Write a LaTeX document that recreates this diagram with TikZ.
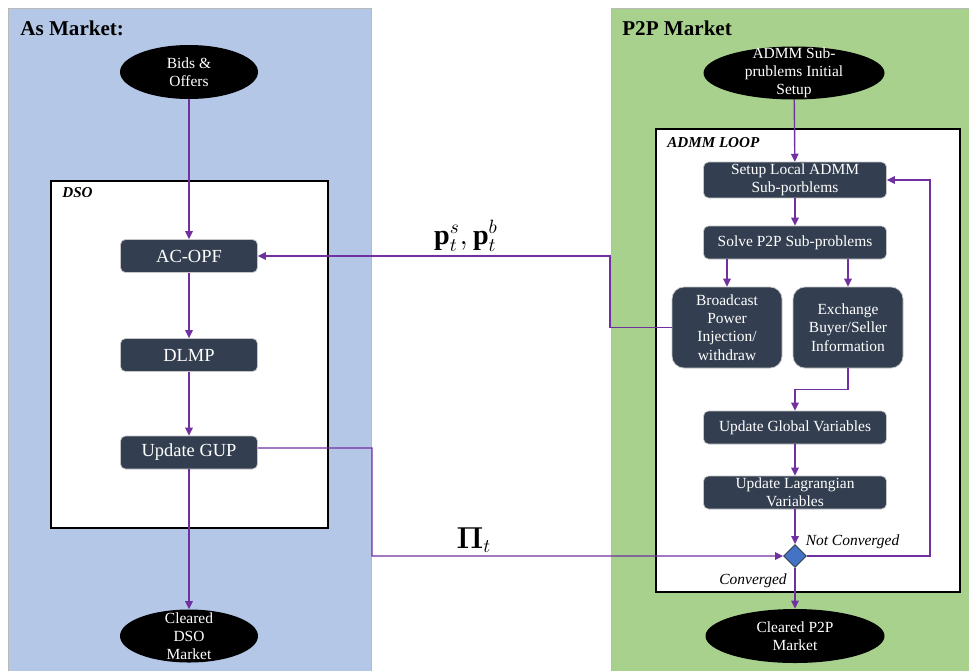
\documentclass[tikz,border=0pt]{standalone}
\usepackage{amsmath,amssymb,bm}
\usepackage{fontspec}
\setmainfont{Liberation Serif}
\usetikzlibrary{arrows.meta,positioning,shapes.geometric}

\definecolor{asblue}{HTML}{B4C7E7}
\definecolor{ptpgreen}{HTML}{A9D18E}
\definecolor{slatebox}{HTML}{333F50}
\definecolor{flowpurple}{HTML}{7030A0}
\definecolor{decisionblue}{HTML}{4472C4}

\begin{document}
\begin{tikzpicture}[
    every node/.style={font=\fontsize{8.8}{10.4}\selectfont},
    panel/.style={draw=gray!55, line width=0.4pt},
    panel title/.style={anchor=west, inner sep=0pt, font=\fontsize{12}{14}\selectfont\bfseries},
    frame/.style={draw=black, fill=white, line width=1pt},
    frame title/.style={anchor=west, inner sep=0pt, font=\fontsize{8.6}{10}\selectfont\bfseries\itshape},
    terminal/.style={ellipse, fill=black, inner sep=0pt},
    terminal text/.style={label={[text=white, align=center, inner sep=0pt]center:#1}},
    stepbox/.style={draw=gray!45, fill=slatebox, text=white, rounded corners=1mm, align=center, inner sep=1pt, line width=0.4pt},
    dso step/.style={stepbox, minimum width=2.74cm, minimum height=0.66cm, font=\fontsize{10.5}{12}\selectfont},
    loop step/.style={stepbox, minimum width=3.66cm, minimum height=0.66cm},
    split step/.style={stepbox, rounded corners=2.4mm, minimum width=2.20cm, minimum height=1.62cm, text width=2.0cm},
    check/.style={diamond, aspect=1, draw=slatebox, fill=decisionblue, inner sep=0pt, minimum width=0.46cm, minimum height=0.46cm, line width=0.5pt},
    flow/.style={-{Triangle[length=1.6mm, width=1.5mm]}, draw=flowpurple, line width=0.8pt},
    branch label/.style={font=\fontsize{8.8}{10}\selectfont\itshape, inner sep=0pt},
    signal label/.style={font=\fontsize{16}{19}\selectfont, inner sep=0pt}
  ]
    \useasboundingbox (0,0) rectangle (19.38,-13.42);

    % Two market panels side by side.
    \fill[asblue] (0.16,-0.16) rectangle (7.42,-13.42);
    \draw[panel] (0.16,-13.42) -- (0.16,-0.16) -- (7.42,-0.16) -- (7.42,-13.42);
    \fill[ptpgreen] (12.22,-0.16) rectangle (19.38,-13.42);
    \draw[panel] (12.22,-13.42) -- (12.22,-0.16) -- (19.38,-0.16);

    \node[panel title] (asTitle) at (0.40,-0.56) {As Market:};
    \node[panel title] (ptpTitle) at (12.44,-0.56) {P2P Market};

    \draw[frame] (1.02,-3.62) rectangle (6.56,-10.56);
    \node[frame title] (dsoTitle) at (1.24,-3.86) {DSO};
    \draw[frame] (13.12,-2.58) rectangle (19.20,-11.84);
    \node[frame title] (loopTitle) at (13.34,-2.86) {ADMM LOOP};

    % DSO side.
    \node[terminal, minimum width=2.76cm, minimum height=1.08cm, terminal text={Bids \&\\Offers}] (bids) at (3.78,-1.44) {};
    \node[dso step] (acopf) at (3.78,-5.12) {AC-OPF};
    \node[dso step] (dlmp) at (3.78,-7.10) {DLMP};
    \node[dso step] (gup) at (3.78,-9.05) {Update GUP};
    \node[terminal, minimum width=2.76cm, minimum height=1.06cm, terminal text={Cleared\\DSO\\Market}] (clearedDso) at (3.78,-12.72) {};

    % P2P side.
    \node[terminal, minimum width=3.62cm, minimum height=1.06cm, terminal text={ADMM Sub-\\prublems Initial\\Setup}] (admmInit) at (15.88,-1.46) {};
    \node[loop step] (setup) at (15.90,-3.60) {Setup Local ADMM\\Sub-porblems};
    \node[loop step] (solve) at (15.90,-4.85) {Solve P2P Sub-problems};
    \node[split step] (broadcast) at (14.54,-6.55) {Broadcast\\Power\\Injection/\\withdraw};
    \node[split step] (exchange) at (16.96,-6.55) {Exchange\\Buyer/Seller\\Information};
    \node[loop step] (globalVars) at (15.90,-8.55) {Update Global Variables};
    \node[loop step] (lagrVars) at (15.90,-9.85) {Update Lagrangian\\Variables};
    \node[check] (converge) at (15.90,-11.12) {};
    \node[terminal, minimum width=3.58cm, minimum height=1.08cm, terminal text={Cleared P2P\\Market}] (clearedPtp) at (15.90,-12.72) {};

    \draw[flow] (bids) -- (acopf);
    \draw[flow] (acopf) -- (dlmp);
    \draw[flow] (dlmp) -- (gup);
    \draw[flow] (gup) -- (clearedDso);

    \draw[flow] (admmInit) -- (setup);
    \draw[flow] (setup) -- (solve);
    \draw[flow] (solve.south -| broadcast.north) -- (broadcast.north);
    \draw[flow] (solve.south -| exchange.north) -- (exchange.north);
    \draw[flow] (exchange.south) -- ++(0,-0.42) -| (globalVars.north);
    \draw[flow] (globalVars) -- (lagrVars);
    \draw[flow] (lagrVars) -- (converge);

    \coordinate (loopTurn) at (18.60,-11.12);
    \draw[flow] (converge.east) -- (loopTurn) |- (setup.east);
    \node[branch label] at (17.05,-10.83) {Not Converged};
    \draw[flow] (converge.south) -- (clearedPtp.north);
    \node[branch label] at (15.06,-11.62) {Converged};

    % Exchanged signals between the two markets.
    \coordinate (powerTurn) at (12.20,-5.12);
    \draw[flow] (broadcast.west) -| (powerTurn) -- (acopf.east);
    \node[signal label] at (9.32,-4.72) {$\mathbf{p}_t^s,\mathbf{p}_t^b$};

    \coordinate (priceTurn) at (7.44,-8.96);
    \draw[flow] ([yshift=0.9mm]gup.east) -- (priceTurn) |- (converge.west);
    \node[signal label] at (9.48,-10.80) {$\bm{\Pi}_t$};
  \end{tikzpicture}
\end{document}
